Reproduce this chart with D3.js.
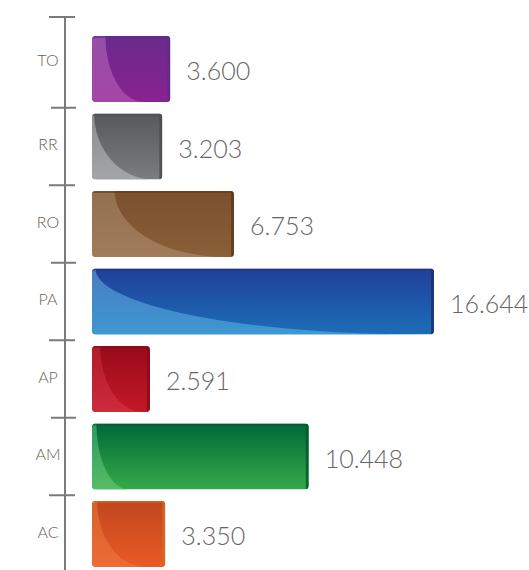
<!DOCTYPE html>
<html><head><meta charset="utf-8">
<script src="https://cdn.jsdelivr.net/npm/d3@7"></script>
<style>body{margin:0;background:#fff}svg{display:block}</style>
</head><body>
<svg id="c" width="529" height="570"></svg>
<script>
// ---- data ----
const categories = ["TO","RR","RO","PA","AP","AM","AC"];
const values = [3.600, 3.203, 6.753, 16.644, 2.591, 10.448, 3.350];
const valueLabels = ["3.600","3.203","6.753","16.644","2.591","10.448","3.350"];

// ---- styles ----
const darkTop    = ["#6a2a8c","#58595b","#7a5030","#21409a","#980b1a","#006838","#bf461f"];
const darkBottom = ["#8a2290","#7b7c7e","#8a6038","#1c6db7","#c41826","#36aa48","#ea5a25"];
const lightTop   = ["#9350a6","#8c8d8f","#92704e","#4a7cc2","#b31a2a","#2a9a60","#d6622f"];
const lightBottom= ["#a645a9","#a4a5a7","#a27c5a","#3d98d1","#cc2b3c","#58bc68","#ee6b36"];
const edgeCol    = ["#5a2d8a","#4a4b4d","#5c3a18","#1e2e70","#8a0a18","#00582e","#d66a1f"];
const glossStart = [0.17,0.03,0.16,0.01,0.14,0.02,0.07];
const glossWidth = [0.49,0.84,0.78,0.96,0.74,0.15,0.66];

const svg = d3.select("#c");
const defs = svg.append("defs");

const x = d3.scaleLinear().domain([0, 16.644]).range([97.6, 434]);
const y = d3.scaleBand().domain(categories).range([30.25, 572.75])
  .paddingInner(0.1484).paddingOuter(0.0742);
const barX0 = 92;
const step = y.step(), bw = y.bandwidth();
const font = "Lato, 'Open Sans', sans-serif";

// axis
svg.append("line").attr("x1",65).attr("x2",65).attr("y1",17).attr("y2",570)
  .attr("stroke","#7a7a7a").attr("stroke-width",2);
const tickYs = [17].concat(categories.slice(1).map(c => y(c) - (step - bw)/2));
svg.selectAll("line.tick").data(tickYs).join("line").attr("class","tick")
  .attr("x1",(d,i)=> i%2 ? 51 : 49).attr("x2",(d,i)=> i%2 ? 76 : 75)
  .attr("y1",d=>d).attr("y2",d=>d)
  .attr("stroke","#7a7a7a").attr("stroke-width",2);

// category labels
svg.selectAll("text.cat").data(categories).join("text").attr("class","cat")
  .attr("x",48).attr("y",(d,i)=> (tickYs[i] + (i<6 ? tickYs[i+1] : 573))/2 - 3)
  .attr("text-anchor","middle").attr("dominant-baseline","central")
  .attr("font-family",font).attr("font-size",16).attr("font-weight",300).attr("fill","#6a6057")
  .text(d=>d);

// bars
categories.forEach((c,i)=>{
  const gd = defs.append("linearGradient").attr("id","gd"+i).attr("x1",0).attr("y1",0).attr("x2",0).attr("y2",1);
  gd.append("stop").attr("offset","0%").attr("stop-color",darkTop[i]);
  gd.append("stop").attr("offset","100%").attr("stop-color",darkBottom[i]);
  const gl = defs.append("linearGradient").attr("id","gl"+i).attr("x1",0).attr("y1",0).attr("x2",0).attr("y2",1);
  gl.append("stop").attr("offset","0%").attr("stop-color",lightTop[i]);
  gl.append("stop").attr("offset","100%").attr("stop-color",lightBottom[i]);
  const x1 = x(values[i]);
  const w = x1 - barX0, top = y(c), h = bw;
  defs.append("clipPath").attr("id","cp"+i).append("rect")
    .attr("x",barX0).attr("y",top).attr("width",w).attr("height",h).attr("rx",4);
  const g = svg.append("g").attr("clip-path",`url(#cp${i})`);
  g.append("rect").attr("x",barX0).attr("y",top).attr("width",w).attr("height",h).attr("fill",`url(#gd${i})`);
  const s = barX0 + glossStart[i]*w, rx = glossWidth[i]*w;
  g.append("path").attr("d",`M${barX0},${top} L${s},${top} A${rx},${h} 0 0 0 ${s+rx},${top+h} L${barX0},${top+h} Z`)
    .attr("fill",`url(#gl${i})`);
  g.append("rect").attr("x",x1-3).attr("y",top).attr("width",3).attr("height",h)
    .attr("fill",edgeCol[i]).attr("opacity",0.8);
  g.append("rect").attr("x",barX0).attr("y",top).attr("width",w).attr("height",2)
    .attr("fill",edgeCol[i]).attr("opacity",0.6);
});

// value labels
svg.selectAll("text.val").data(categories).join("text").attr("class","val")
  .attr("x",(d,i)=> x(values[i]) + 16)
  .attr("y",(d,i)=> y(d) + 34)
  .attr("dominant-baseline","central")
  .attr("font-family",font).attr("font-size",25).attr("font-weight",300).attr("fill","#666666")
  .text((d,i)=>valueLabels[i]);
</script>
</body></html>
